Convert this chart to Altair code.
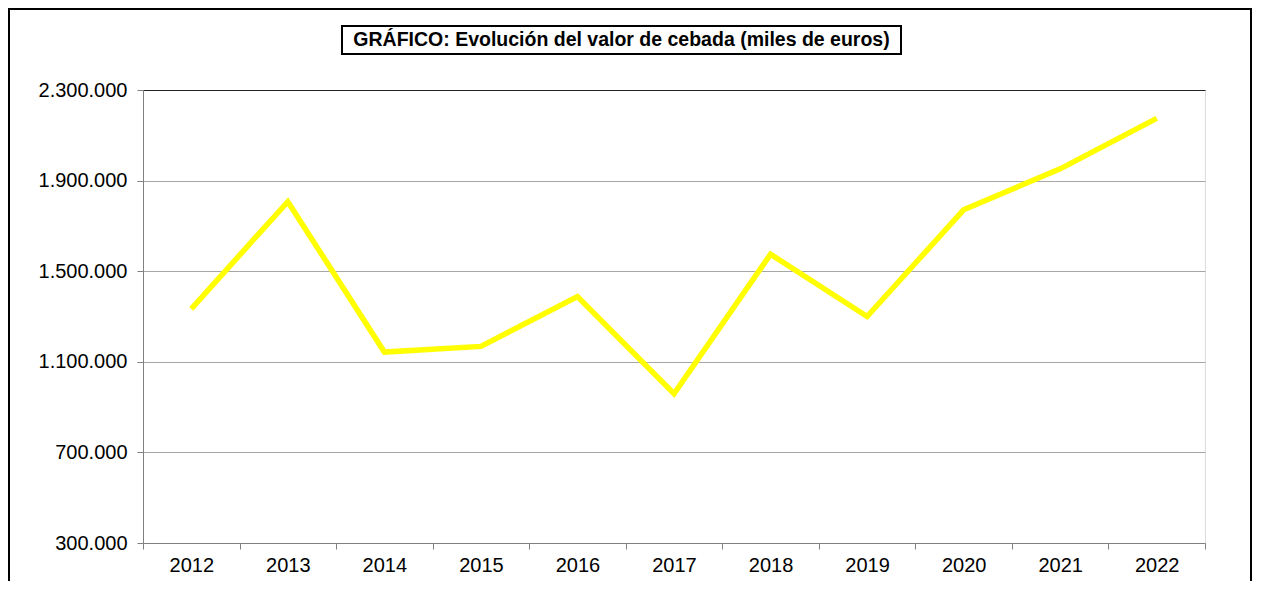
import altair as alt
import pandas as pd

years = ["2012", "2013", "2014", "2015", "2016", "2017", "2018", "2019", "2020", "2021", "2022"]
valor = [1334000, 1807000, 1143000, 1168000, 1388000, 959000, 1575000, 1300000, 1771000, 1952000, 2175000]
y_ticks = [300000, 700000, 1100000, 1500000, 1900000, 2300000]
title_text = "GRÁFICO: Evolución del valor de cebada (miles de euros)"

df = pd.DataFrame({"anio": years, "valor": valor})

W, H = 1062, 453
FONT = "Liberation Sans"

x_enc = alt.X(
    "anio:N",
    sort=years,
    scale=alt.Scale(type="band", paddingInner=0, paddingOuter=0),
    axis=alt.Axis(
        title=None,
        labelAngle=0,
        tickBand="extent",
        tickSize=6,
        tickColor="#808080",
        domainColor="#808080",
        labelColor="black",
        labelFont=FONT,
        labelFontSize=20,
        labelPadding=6,
        grid=False,
    ),
)
y_enc = alt.Y(
    "valor:Q",
    scale=alt.Scale(domain=[300000, 2300000], nice=False, zero=False),
    axis=alt.Axis(
        title=None,
        values=y_ticks,
        labelExpr="replace(format(datum.value, ',d'), regexp(',', 'g'), '.')",
        tickSize=6,
        tickColor="#808080",
        domainColor="#808080",
        labelColor="black",
        labelFont=FONT,
        labelFontSize=20,
        labelPadding=10,
        grid=True,
        gridColor={"condition": {"test": "datum.value == 2300000", "value": "#222222"}, "value": "#a6a6a6"},
        gridWidth=1,
    ),
)

line = alt.Chart(df).mark_line(color="#FFFF00", strokeWidth=5.5, strokeJoin="miter").encode(x=x_enc, y=y_enc)

frame = alt.Chart(df).mark_rect(filled=False, stroke="black", strokeWidth=2).encode(
    x=alt.value(-134), x2=alt.value(1108), y=alt.value(-81), y2=alt.value(520)
)

title_box = alt.Chart(df).mark_rect(filled=False, stroke="black", strokeWidth=1.5).encode(
    x=alt.value(199), x2=alt.value(758), y=alt.value(-64), y2=alt.value(-36)
)
title = alt.Chart(pd.DataFrame({"t": [title_text]})).mark_text(
    font=FONT, fontSize=19.5, fontWeight="bold", color="black", align="center", baseline="middle"
).encode(x=alt.value(478.5), y=alt.value(-50), text="t:N")

chart = alt.layer(frame, line, title_box, title).properties(
    width=W,
    height=H,
    padding={"left": 135, "top": 82, "right": 48, "bottom": 38},
    autosize=alt.AutoSizeParams(type="none"),
).configure_view(stroke="#808080", strokeWidth=1).configure(background="white")

chart.save("out.html", embed_options={"renderer": "svg", "actions": False})
